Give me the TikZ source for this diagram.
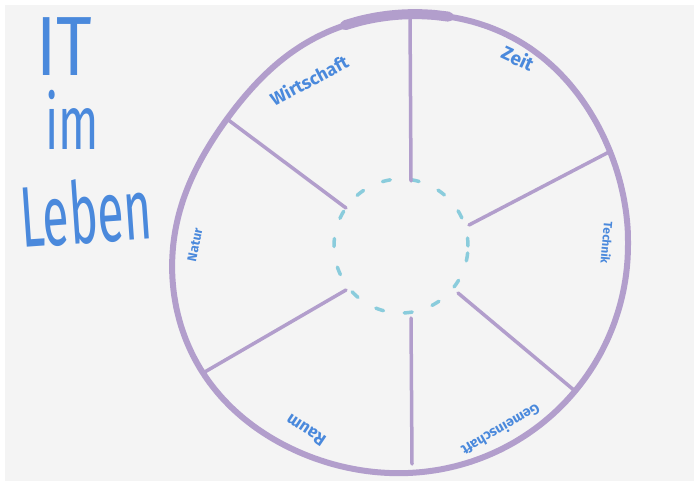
\documentclass[tikz,border=0pt]{standalone}
\usepackage{fontspec}
\setmainfont{Fira Sans}
\usepackage{graphicx}
\usepackage{xcolor}
\definecolor{paper}{RGB}{244,244,244}
\definecolor{ringlila}{RGB}{178,158,204}
\definecolor{hubcyan}{RGB}{138,204,220}
\definecolor{itblue}{RGB}{74,137,220}
% radius of the hand drawn ring, angle measured clockwise on the page
\newcommand{\ringrad}[1]{(228-14*exp(-((#1-216)/30)^2)+7*exp(-((#1-147)/30)^2)+8*exp(-((#1-300)/30)^2))}

\begin{document}
\begin{tikzpicture}[x=1pt, y=-1pt,
    ring/.style={ringlila, line width=6pt, line cap=round, line join=round},
    spoke/.style={ringlila, line width=3.5pt, line cap=round},
    hub/.style={hubcyan, line width=3.5pt, line cap=round, dash pattern=on 8pt off 21pt},
    sector/.style={text=itblue, inner sep=0pt},
    titleword/.style={text=itblue, inner sep=0pt, anchor=base west}]
    \useasboundingbox (0,0) rectangle (699,486);
    \fill[white] (0,0) rectangle (699,486);
    \fill[paper] (5,5) rectangle (694,481);

    % title on the left
    \node[titleword, font=\fontsize{84}{84}\selectfont] (titleIT) at (36,76) {\scalebox{0.82}[1]{IT}};
    \node[titleword, font=\fontsize{76}{76}\selectfont] (titleIm) at (45,150) {\scalebox{0.62}[1]{im}};
    \node[titleword, font=\fontsize{86}{86}\selectfont, rotate=4] (titleLeben) at (22,248) {\scalebox{0.56}[1]{Leben}};

    % outer ring (hand drawn), thicker stroke at the top
    \draw[ring] plot[domain=0:356, samples=90, smooth cycle]
        ({400+\ringrad{\x}*cos(\x)}, {245+\ringrad{\x}*sin(\x)});
    \draw[ringlila, line width=10pt, line cap=round] plot[domain=256:282, samples=8, smooth]
        ({400+\ringrad{\x}*cos(\x)}, {245+\ringrad{\x}*sin(\x)});

    % dashed hub in the middle
    \draw[hub] (401,246) circle[radius=67pt];

    % spokes, hub to ring
    \coordinate (s1in) at (411,181);  \coordinate (s1out) at (410,13);
    \coordinate (s2in) at (469,225);  \coordinate (s2out) at (609,152);
    \coordinate (s3in) at (458,293);  \coordinate (s3out) at (575,391);
    \coordinate (s4in) at (411,318);  \coordinate (s4out) at (412,464);
    \coordinate (s5in) at (346,290);  \coordinate (s5out) at (203,373);
    \coordinate (s6in) at (346,208);  \coordinate (s6out) at (227,119);
    \draw[spoke] (s1in) -- (s1out);
    \draw[spoke] (s2in) -- (s2out);
    \draw[spoke] (s3in) -- (s3out);
    \draw[spoke] (s4in) -- (s4out);
    \draw[spoke] (s5in) -- (s5out);
    \draw[spoke] (s6in) -- (s6out);

    % sector labels
    \node[sector, rotate=-25, font=\fontsize{19}{19}\selectfont\bfseries] (zeit) at (518,58) {Zeit};
    \node[sector, rotate=-95, font=\fontsize{12}{12}\selectfont\bfseries] (technik) at (607,243) {Technik};
    \node[sector, rotate=210, font=\fontsize{14}{14}\selectfont\bfseries] (gemeinschaft) at (501,430) {Gemeinschaft};
    \node[sector, rotate=146, font=\fontsize{17}{17}\selectfont\bfseries] (raum) at (306,430) {Raum};
    \node[sector, rotate=78, font=\fontsize{13}{13}\selectfont\bfseries] (natur) at (195,245) {Natur};
    \node[sector, rotate=28, font=\fontsize{18}{18}\selectfont\bfseries] (wirtschaft) at (309,80) {Wirtschaft};
\end{tikzpicture}
\end{document}
